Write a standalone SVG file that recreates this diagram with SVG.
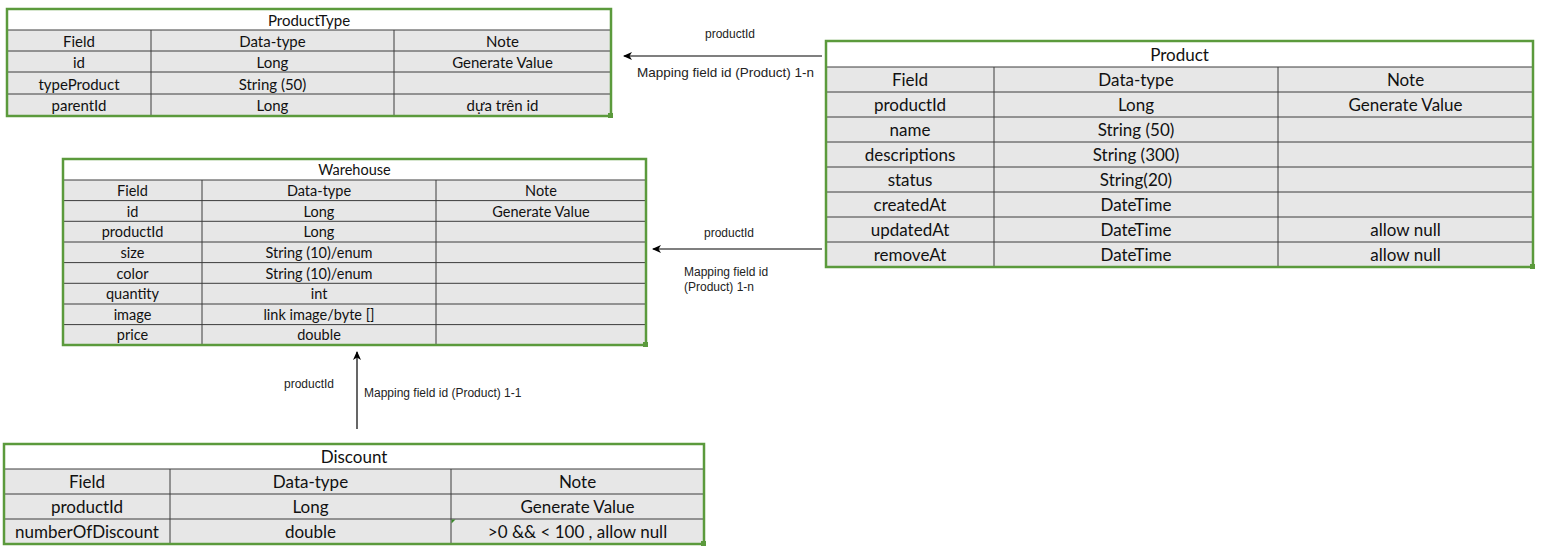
<svg xmlns="http://www.w3.org/2000/svg" width="1541" height="550" viewBox="0 0 1541 550">
<style>
.bg{fill:#ffffff}
.title{fill:#ffffff}
.body{fill:#e7e7e7}
.ln{stroke:#3c3c3c;stroke-width:1;fill:none}
.frame{fill:none;stroke:#5b9a3c;stroke-width:2.5}
.handle{fill:#5b9a3c}
.t{font-family:Lato,"Liberation Sans",sans-serif;text-anchor:middle;dominant-baseline:central;fill:#111}
.s1{font-size:15px}
.s2{font-size:17px}
.s3{font-size:14.5px}
.lbl{font-family:"Liberation Sans",Arial,sans-serif;fill:#222;font-size:12px}
.conn{stroke:#000;stroke-width:1.2;fill:none}
</style>
<defs>
<marker id="arr" markerWidth="10" markerHeight="10" refX="8" refY="5" orient="auto" markerUnits="userSpaceOnUse">
<path d="M0,1 L9,5 L0,9 L2.5,5 Z" fill="#000"/>
</marker>
</defs>
<rect class="bg" x="0" y="0" width="1541" height="550"/>

<g id="productType">
<rect class="title" x="7" y="9" width="604" height="107"/>
<rect class="body" x="7" y="30" width="604" height="86"/>
<path class="ln" d="M7,30H611M7,51H611M7,72H611M7,94H611M151,30V116M394,30V116"/>
<rect class="frame" x="7" y="9" width="604" height="107"/>
<rect class="handle" x="608" y="113" width="5" height="5"/>
<text class="t s1" x="309" y="20">ProductType</text>
<text class="t s1" x="79" y="41">Field</text>
<text class="t s1" x="272.5" y="41">Data-type</text>
<text class="t s1" x="502.5" y="41">Note</text>
<text class="t s1" x="79" y="62">id</text>
<text class="t s1" x="272.5" y="62">Long</text>
<text class="t s1" x="502.5" y="62">Generate Value</text>
<text class="t s1" x="79" y="83.5">typeProduct</text>
<text class="t s1" x="272.5" y="83.5">String (50)</text>
<text class="t s1" x="79" y="105">parentId</text>
<text class="t s1" x="272.5" y="105">Long</text>
<text class="t s1" x="502.5" y="105">dựa trên id</text>
</g>

<g id="product">
<rect class="title" x="826" y="41" width="707" height="226"/>
<rect class="body" x="826" y="67" width="707" height="200"/>
<path class="ln" d="M826,67H1533M826,92H1533M826,117H1533M826,142H1533M826,167H1533M826,192H1533M826,217H1533M826,242H1533M994,67V267M1278,67V267"/>
<rect class="frame" x="826" y="41" width="707" height="226"/>
<rect class="handle" x="1530" y="264" width="5" height="5"/>
<text class="t s2" x="1179.5" y="54">Product</text>
<text class="t s2" x="910" y="79.5">Field</text>
<text class="t s2" x="1136" y="79.5">Data-type</text>
<text class="t s2" x="1405.5" y="79.5">Note</text>
<text class="t s2" x="910" y="104.5">productId</text>
<text class="t s2" x="1136" y="104.5">Long</text>
<text class="t s2" x="1405.5" y="104.5">Generate Value</text>
<text class="t s2" x="910" y="129.5">name</text>
<text class="t s2" x="1136" y="129.5">String (50)</text>
<text class="t s2" x="910" y="154.5">descriptions</text>
<text class="t s2" x="1136" y="154.5">String (300)</text>
<text class="t s2" x="910" y="179.5">status</text>
<text class="t s2" x="1136" y="179.5">String(20)</text>
<text class="t s2" x="910" y="204.5">createdAt</text>
<text class="t s2" x="1136" y="204.5">DateTime</text>
<text class="t s2" x="910" y="229.5">updatedAt</text>
<text class="t s2" x="1136" y="229.5">DateTime</text>
<text class="t s2" x="1405.5" y="229.5">allow null</text>
<text class="t s2" x="910" y="254.5">removeAt</text>
<text class="t s2" x="1136" y="254.5">DateTime</text>
<text class="t s2" x="1405.5" y="254.5">allow null</text>
</g>

<g id="warehouse">
<rect class="title" x="63" y="159" width="583" height="186"/>
<rect class="body" x="63" y="180" width="583" height="165"/>
<path class="ln" d="M63,180H646M63,200.6H646M63,221.3H646M63,242H646M63,262.6H646M63,283.3H646M63,304H646M63,324.6H646M202,180V345M436,180V345"/>
<rect class="frame" x="63" y="159" width="583" height="186"/>
<rect class="handle" x="643" y="342" width="5" height="5"/>
<text class="t s3" x="354.5" y="169.5">Warehouse</text>
<text class="t s3" x="132.5" y="190.3">Field</text>
<text class="t s3" x="319" y="190.3">Data-type</text>
<text class="t s3" x="541" y="190.3">Note</text>
<text class="t s3" x="132.5" y="211">id</text>
<text class="t s3" x="319" y="211">Long</text>
<text class="t s3" x="541" y="211">Generate Value</text>
<text class="t s3" x="132.5" y="231.6">productId</text>
<text class="t s3" x="319" y="231.6">Long</text>
<text class="t s3" x="132.5" y="252.3">size</text>
<text class="t s3" x="319" y="252.3">String (10)/enum</text>
<text class="t s3" x="132.5" y="273">color</text>
<text class="t s3" x="319" y="273">String (10)/enum</text>
<text class="t s3" x="132.5" y="293.6">quantity</text>
<text class="t s3" x="319" y="293.6">int</text>
<text class="t s3" x="132.5" y="314.3">image</text>
<text class="t s3" x="319" y="314.3">link image/byte []</text>
<text class="t s3" x="132.5" y="334.8">price</text>
<text class="t s3" x="319" y="334.8">double</text>
</g>

<g id="discount">
<rect class="title" x="4" y="444" width="700" height="100"/>
<rect class="body" x="4" y="469" width="700" height="75"/>
<path class="ln" d="M4,469H704M4,494H704M4,519H704M170,469V544M451,469V544"/>
<path d="M451.5,519.5 l4,0 l-4,4 z" fill="#3a8a2a"/>
<rect class="frame" x="4" y="444" width="700" height="100"/>
<rect class="handle" x="701" y="541" width="5" height="5"/>
<text class="t s2" x="354" y="456.5">Discount</text>
<text class="t s2" x="87" y="481.5">Field</text>
<text class="t s2" x="310.5" y="481.5">Data-type</text>
<text class="t s2" x="577.5" y="481.5">Note</text>
<text class="t s2" x="87" y="506.5">productId</text>
<text class="t s2" x="310.5" y="506.5">Long</text>
<text class="t s2" x="577.5" y="506.5">Generate Value</text>
<text class="t s2" x="87" y="531.5">numberOfDiscount</text>
<text class="t s2" x="310.5" y="531.5">double</text>
<text class="t s2" x="577.5" y="531.5">&gt;0 &amp;&amp; &lt; 100 , allow null</text>
</g>

<g id="connectors">
<line class="conn" x1="822" y1="56" x2="624" y2="56" marker-end="url(#arr)"/>
<text class="lbl" x="705" y="38">productId</text>
<text class="lbl" x="637" y="77" style="font-size:13.5px">Mapping field id (Product) 1-n</text>
<line class="conn" x1="822" y1="249" x2="653" y2="249" marker-end="url(#arr)"/>
<text class="lbl" x="704" y="237">productId</text>
<text class="lbl" x="684" y="276">Mapping field id</text>
<text class="lbl" x="684" y="291">(Product) 1-n</text>
<line class="conn" x1="357" y1="429" x2="357" y2="352" marker-end="url(#arr)"/>
<text class="lbl" x="284" y="388">productId</text>
<text class="lbl" x="364" y="397">Mapping field id (Product) 1-1</text>
</g>
</svg>
